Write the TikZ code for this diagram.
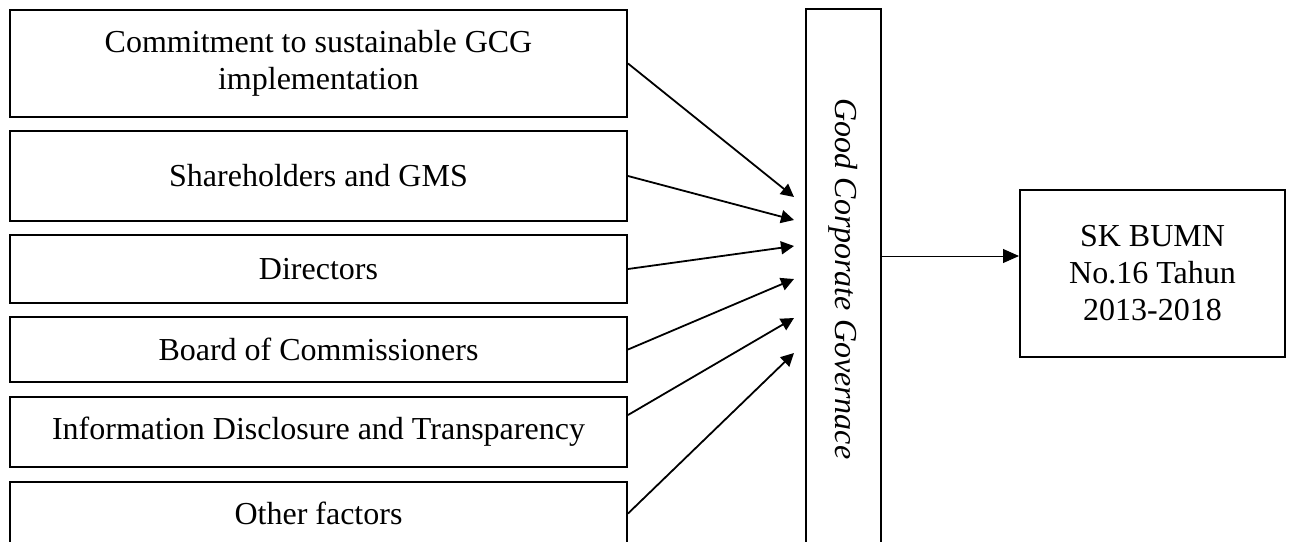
\documentclass[tikz,border=0pt]{standalone}
\usepackage{fontspec}
\setmainfont{Liberation Serif}
\usetikzlibrary{arrows.meta}

\tikzset{
  factor/.style={draw, line width=1pt, minimum width=308.5pt, inner sep=0pt, align=center},
  feeds/.style={line width=0.9pt, -{Triangle[length=6.5pt,width=6.5pt]}},
}

\begin{document}
\begin{tikzpicture}
  [x=0.5pt, y=-0.5pt, font=\fontsize{16}{18.5}\selectfont]
  \useasboundingbox (0,0) rectangle (1290,541);
  \clip (0,0) rectangle (1290,541);
  % factors
  \node[factor, minimum height=53.5pt] (commit) at (318.5,63.5) {Commitment to sustainable GCG\\implementation};
  \node[factor, minimum height=45pt] (share) at (318.5,176) {Shareholders and GMS};
  \node[factor, minimum height=34pt] (dir) at (318.5,269) {Directors};
  \node[factor, minimum height=32.5pt] (board) at (318.5,349.5) {Board of Commissioners};
  \node[factor, minimum height=35pt] (info) at (318.5,432) {Information Disclosure and Transparency};
  \node[factor, minimum height=31.5pt] (other) at (318.5,513.5) {Other factors};
  % governance and result
  \node[draw, line width=1pt, minimum width=37.5pt, minimum height=270pt, inner sep=0pt] (gcg) at (843,279)
    {\rotatebox{-90}{\itshape Good Corporate Governace}};
  \node[draw, line width=1pt, minimum width=132.5pt, minimum height=83.5pt, align=center] (sk) at (1152.5,273.5)
    {SK BUMN\\No.16 Tahun\\2013-2018};
  % arrow ends
  \coordinate (e1) at (794,197);
  \coordinate (e2) at (794,220);
  \coordinate (e3) at (794,246);
  \coordinate (e4) at (794,279);
  \coordinate (e5) at (794,318);
  \coordinate (e6) at (794,353);
  \coordinate (outy) at (0,256);
  \draw[feeds] (commit.east) -- (e1);
  \draw[feeds] (share.east) -- (e2);
  \draw[feeds] (dir.east) -- (e3);
  \draw[feeds] (board.east) -- (e4);
  \draw[feeds] ([yshift=8.5pt]info.east) -- (e5);
  \draw[feeds] (other.east) -- (e6);
  \draw[line width=0.5pt, -{Triangle[length=8pt,width=7pt]}] (gcg.east |- outy) -- (sk.west |- outy);
\end{tikzpicture}
\end{document}
